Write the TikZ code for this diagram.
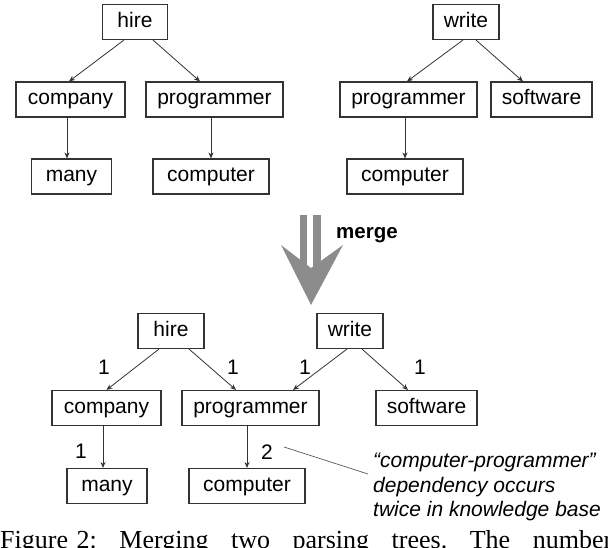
\documentclass[tikz,border=0pt]{standalone}
\usepackage{fontspec}
\setmainfont{Liberation Serif}
\setsansfont{Liberation Sans}
\usetikzlibrary{positioning, arrows.meta}
\tikzset{
>={Stealth[length=6pt, width=5pt]}, % small filled arrow heads
word/.style={draw=black!80, line width=1.1pt, minimum width=#1, minimum height=35pt, inner sep=0pt, text height=15pt, text depth=4.5pt, font=\sffamily\fontsize{21}{24}\selectfont}, % the boxes of the trees
dep/.style={->, draw=black!80, line width=0.8pt}, % a dependency between two words
weight/.style={inner sep=1pt, font=\sffamily\fontsize{21}{24}\selectfont}, % counts in the merged tree
}

\begin{document}
\begin{tikzpicture}[x=1pt, y=-1pt]
  \useasboundingbox (0,0) rectangle (608,548);
  \clip (0,0) rectangle (608,548);

  % first tree
  \node[word=65pt] (hire1) at (135,22) {hire};
  \node[word=109pt] (company1) at (70.5,99.5) {company};
  \node[word=137pt] (prog1) at (214.5,99.5) {programmer};
  \node[word=80pt] (many1) at (71.5,176.5) {many};
  \node[word=116pt] (cptr1) at (211,176.5) {computer};

  \draw[dep] ([xshift=-11pt]hire1.south) -- ([xshift=-1.5pt]company1.north);
  \draw[dep] ([xshift=18pt]hire1.south) -- ([xshift=-14.5pt]prog1.north);
  \draw[dep] ([xshift=-3.5pt]company1.south) -- ([xshift=-4.5pt]many1.north);
  \draw[dep] ([xshift=-3.5pt]prog1.south) -- (cptr1.north);

  % second tree
  \node[word=66pt] (write2) at (466,22) {write};
  \node[word=137pt] (prog2) at (408.5,99.5) {programmer};
  \node[word=101pt] (soft2) at (541.5,99.5) {software};
  \node[word=116pt] (cptr2) at (405,176.5) {computer};

  \draw[dep] ([xshift=-3pt]write2.south) -- ([xshift=-1.5pt]prog2.north);
  \draw[dep] ([xshift=10pt]write2.south) -- ([xshift=-18.5pt]soft2.north);
  \draw[dep] ([xshift=-3.5pt]prog2.south) -- (cptr2.north);

  % merge arrow
  \fill[black!45] (300,215) rectangle (307,266);
  \fill[black!45] (313,215) rectangle (321,266);
  \fill[black!45] (281,245) -- (311,305) -- (343,245) -- (311,268) -- cycle;
  \node[anchor=west, inner sep=0pt, font=\sffamily\bfseries\fontsize{20.5}{24}\selectfont] (mergelbl) at (336,235) {merge};

  % merged tree
  \node[word=66pt] (hire3) at (171,331) {hire};
  \node[word=66pt] (write3) at (350,331) {write};
  \node[word=109pt] (company3) at (106.5,408) {company};
  \node[word=137pt] (prog3) at (250.5,408) {programmer};
  \node[word=101pt] (soft3) at (426.5,408) {software};
  \node[word=80pt] (many3) at (107,486) {many};
  \node[word=116pt] (cptr3) at (247,486) {computer};

  \draw[dep] ([xshift=-12pt]hire3.south) -- (company3.north);
  \draw[dep] ([xshift=18pt]hire3.south) -- ([xshift=-14.5pt]prog3.north);
  \draw[dep] ([xshift=-3pt]write3.south) -- ([xshift=42.5pt]prog3.north);
  \draw[dep] ([xshift=12pt]write3.south) -- ([xshift=-18.5pt]soft3.north);
  \draw[dep] ([xshift=-3.5pt]company3.south) -- ([xshift=-4pt]many3.north);
  \draw[dep] ([xshift=-3.5pt]prog3.south) -- (cptr3.north);

  \node[weight] (w1) at (104,367) {1};
  \node[weight] (w2) at (233,367) {1};
  \node[weight] (w3) at (305,367) {1};
  \node[weight] (w4) at (420,367) {1};
  \node[weight] (w5) at (81,451) {1};
  \node[weight] (w6) at (267,452) {2};

  % note on the repeated dependency
  \node[anchor=west, inner sep=0pt, align=left, font=\sffamily\itshape\fontsize{21}{24.5}\selectfont] (note) at (373,487)
    {“computer-programmer”\\dependency occurs\\twice in knowledge base};
  \draw[black!65, line width=0.7pt] ([xshift=10pt,yshift=5pt]w6.east) -- ([xshift=-5pt,yshift=13pt]note.west);

  % caption, cut at the bottom
  \node[anchor=base west, inner sep=0pt, text width=612pt, font=\rmfamily\fontsize{26}{30}\selectfont] (caption) at (0,548)
    {\noindent Figure~2:\hfill Merging\hfill two\hfill parsing\hfill trees.\hfill The\hfill number};
\end{tikzpicture}
\end{document}
